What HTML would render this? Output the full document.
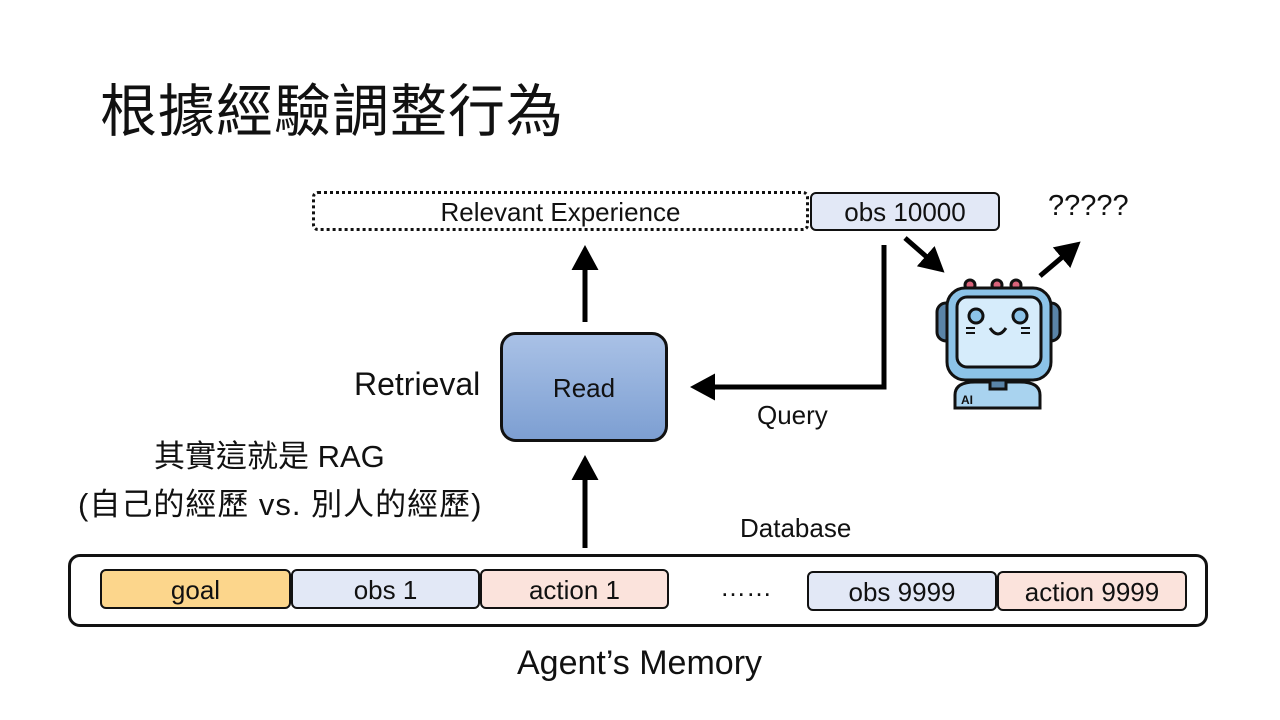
<!DOCTYPE html>
<html><head><meta charset="utf-8"><style>
body{margin:0;width:1280px;height:720px;background:#fff;position:relative;overflow:hidden;font-family:"Liberation Sans","Noto Sans CJK TC",sans-serif;color:#111}
.a{position:absolute;white-space:nowrap}
.box{position:absolute;box-sizing:border-box;border:2.5px solid #111;border-radius:6px;text-align:center;font-size:26px}
</style></head><body>
<div class="a" style="left:100px;top:66px;font-size:57px;letter-spacing:1px">根據經驗調整行為</div>

<div class="box" style="left:312px;top:191px;width:497px;height:40px;border:3px dotted #111;line-height:36px;font-size:26px">Relevant Experience</div>
<div class="box" style="left:810px;top:192px;width:190px;height:39px;background:#e2e8f6;line-height:36px">obs 10000</div>
<div class="a" style="left:1048px;top:190px;font-size:29px">?????</div>

<div class="a" style="left:354px;top:366px;font-size:32px">Retrieval</div>
<div class="box" style="left:500px;top:332px;width:168px;height:110px;border-radius:16px;border-width:3px;background:linear-gradient(#a9c1e6,#7d9fd2);line-height:106px;font-size:26px">Read</div>
<div class="a" style="left:757px;top:400px;font-size:26px">Query</div>
<div class="a" style="left:154px;top:431px;font-size:31px">其實這就是 RAG</div>
<div class="a" style="left:78px;top:479px;font-size:31px;letter-spacing:1px">(自己的經歷 vs. 別人的經歷)</div>
<div class="a" style="left:740px;top:513px;font-size:26px">Database</div>

<div class="box" style="left:68px;top:554px;width:1140px;height:73px;border-radius:12px;border-width:3px"></div>
<div class="box" style="left:100px;top:569px;width:191px;height:40px;background:#fcd68c;line-height:38px">goal</div>
<div class="box" style="left:291px;top:569px;width:189px;height:40px;background:#e2e8f6;line-height:38px">obs 1</div>
<div class="box" style="left:480px;top:569px;width:189px;height:40px;background:#fbe3dc;line-height:38px">action 1</div>
<div class="a" style="left:720px;top:572px;font-size:26px">……</div>
<div class="box" style="left:807px;top:571px;width:190px;height:40px;background:#e2e8f6;line-height:38px">obs 9999</div>
<div class="box" style="left:997px;top:571px;width:190px;height:40px;background:#fbe3dc;line-height:38px">action 9999</div>
<div class="a" style="left:517px;top:644px;font-size:34px">Agent’s Memory</div>

<svg class="a" style="left:0;top:0" width="1280" height="720">
<defs><marker id="h" markerWidth="6" markerHeight="6" refX="3" refY="3" orient="auto" markerUnits="strokeWidth"><path d="M0,0.3 L5,3 L0,5.7z" fill="#000"/></marker></defs>
<g stroke="#000" stroke-width="5" fill="none">
<line x1="585" y1="322" x2="585" y2="255" marker-end="url(#h)"/>
<line x1="585" y1="548" x2="585" y2="465" marker-end="url(#h)"/>
<polyline points="884,245 884,387 700,387" marker-end="url(#h)"/>
<line x1="905" y1="238" x2="937" y2="266" marker-end="url(#h)"/>
<line x1="1040" y1="276" x2="1073" y2="248" marker-end="url(#h)"/>
</g>
<g stroke="#111" stroke-width="3">
<circle cx="970" cy="285" r="5" fill="#d9637a"/><circle cx="997" cy="285" r="5" fill="#d9637a"/><circle cx="1016" cy="285" r="5" fill="#d9637a"/>
<rect x="937" y="303" width="20" height="38" rx="9" fill="#5a84a8"/>
<rect x="1040" y="303" width="20" height="38" rx="9" fill="#5a84a8"/>
<path d="M955,408 L955,395 Q955,382 975,382 L1020,382 Q1040,382 1040,395 L1040,408z" fill="#a9d3ef"/>
<rect x="990" y="375" width="16" height="14" fill="#5a84a8"/>
<rect x="947" y="288" width="104" height="92" rx="18" fill="#8cc3e8"/>
<rect x="957" y="297" width="84" height="70" rx="10" fill="#d6ecfb"/>
<circle cx="976" cy="316" r="7" fill="#8cc3e8"/><circle cx="1020" cy="316" r="7" fill="#8cc3e8"/>
<path d="M990,328 Q998,340 1006,328" fill="none"/>
<line x1="966" y1="328" x2="975" y2="328" stroke-width="2"/><line x1="966" y1="333" x2="975" y2="333" stroke-width="2"/>
<line x1="1021" y1="328" x2="1030" y2="328" stroke-width="2"/><line x1="1021" y1="333" x2="1030" y2="333" stroke-width="2"/>
</g>
<text x="961" y="404" font-family="Liberation Sans" font-weight="bold" font-size="12" fill="#111">AI</text>
</svg>
</body></html>
